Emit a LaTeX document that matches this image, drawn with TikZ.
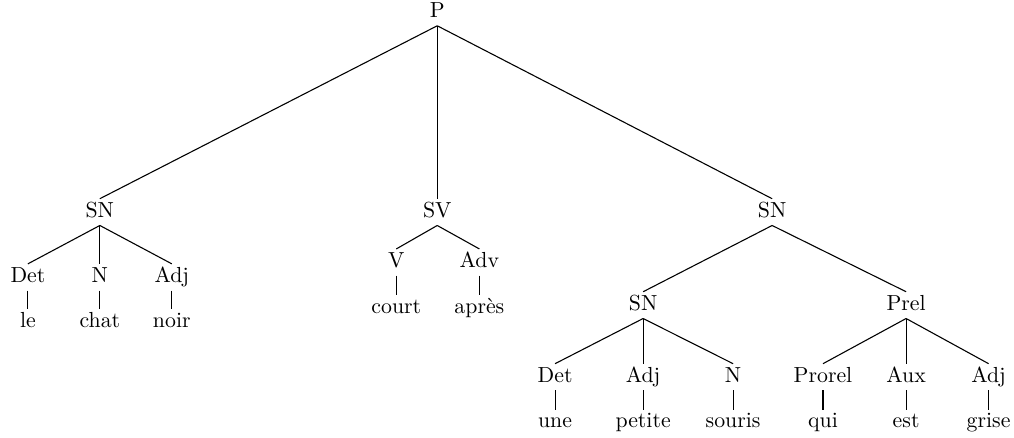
\documentclass[tikz,border=0pt]{standalone}

\tikzset{
    cat/.style={text height=1.3ex, text depth=.25ex, inner sep=2.6pt},
    branch/.style={line width=0.5pt}
}

\begin{document}
\begin{tikzpicture}
    %\draw[help lines] (0,0) grid (16,7);
    \useasboundingbox (0,0) rectangle (16.35,7.05);

    \node[cat] (p) at (7.05,6.85) {P};

    \node[cat] (sn1) at (1.61,3.63) {SN};
    \node[cat] (sv) at (7.05,3.63) {SV};
    \node[cat] (sn2) at (12.45,3.63) {SN};

    \node[cat] (det1) at (0.45,2.58) {Det};
    \node[cat] (n1) at (1.61,2.58) {N};
    \node[cat] (adj1) at (2.77,2.58) {Adj};
    \node[cat] (le) at (0.45,1.85) {le};
    \node[cat] (chat) at (1.61,1.85) {chat};
    \node[cat] (noir) at (2.77,1.85) {noir};

    \node[cat] (v) at (6.39,2.82) {V};
    \node[cat] (adv) at (7.73,2.82) {Adv};
    \node[cat] (court) at (6.39,2.08) {court};
    \node[cat] (apres) at (7.73,2.08) {après};

    \node[cat] (sn3) at (10.37,2.13) {SN};
    \node[cat] (prel) at (14.61,2.13) {Prel};

    \node[cat] (det2) at (8.95,0.97) {Det};
    \node[cat] (adj2) at (10.37,0.97) {Adj};
    \node[cat] (n2) at (11.82,0.97) {N};
    \node[cat] (une) at (8.95,0.23) {une};
    \node[cat] (petite) at (10.37,0.23) {petite};
    \node[cat] (souris) at (11.82,0.23) {souris};

    \node[cat] (prorel) at (13.27,0.97) {Prorel};
    \node[cat] (aux) at (14.61,0.97) {Aux};
    \node[cat] (adj3) at (15.94,0.97) {Adj};
    \node[cat] (qui) at (13.27,0.23) {qui};
    \node[cat] (est) at (14.61,0.23) {est};
    \node[cat] (grise) at (15.94,0.23) {grise};

    \foreach \a/\b in {p/sn1, p/sv, p/sn2,
                       sn1/det1, sn1/n1, sn1/adj1,
                       det1/le, n1/chat, adj1/noir,
                       sv/v, sv/adv, v/court, adv/apres,
                       sn2/sn3, sn2/prel,
                       sn3/det2, sn3/adj2, sn3/n2,
                       det2/une, adj2/petite, n2/souris,
                       prel/prorel, prel/aux, prel/adj3,
                       prorel/qui, aux/est, adj3/grise}
        \draw[branch] (\a.south) -- (\b.north);

\end{tikzpicture}
\end{document}
